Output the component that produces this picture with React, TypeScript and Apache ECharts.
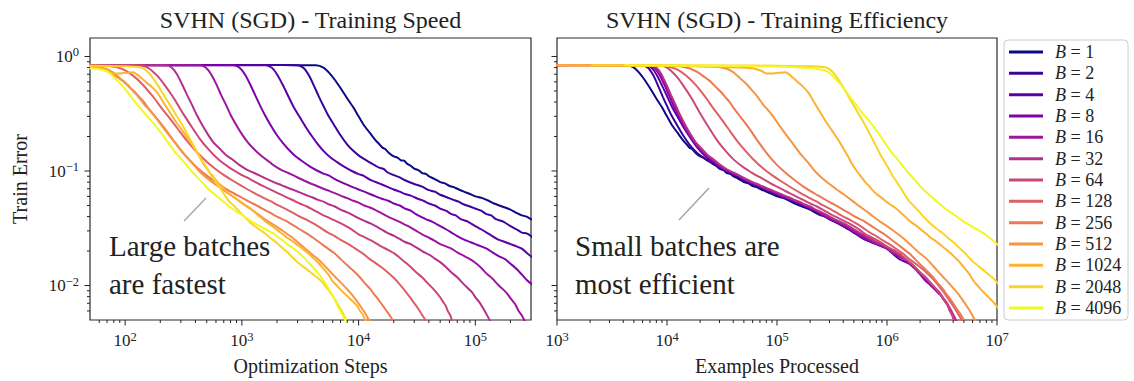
import React, { useEffect, useRef } from 'react';
import * as echarts from 'echarts';

const SERIF = 'Liberation Serif';
const INK = '#222222';

const BATCH_SIZES = [1, 2, 4, 8, 16, 32, 64, 128, 256, 512, 1024, 2048, 4096];
const COLORS = ['#0d0887', '#3a049a', '#5c01a6', '#7e03a8', '#9c179e', '#b52f8c', '#cc4778', '#de5f65', '#ed7953', '#f89540', '#fdb32f', '#fbd524', '#f0f921'];

const STEPS_RANGE = [50, 3e5];
const EXAMPLES_RANGE = [1e3, 1e7];
const ERROR_RANGE = [0.005, 1.45];

const STEPS_MAJOR = [1e2, 1e3, 1e4, 1e5];
const EXAMPLES_MAJOR = [1e3, 1e4, 1e5, 1e6, 1e7];
const ERROR_MAJOR = [0.01, 0.1, 1];
const MINOR_MULTIPLIERS = [2, 3, 4, 5, 6, 7, 8, 9];
const DECADES = [0.001, 0.01, 0.1, 1, 10, 100, 1000, 10000, 100000, 1000000];

// [optimization steps, train error]
const B1 = [[1,0.84],[20,0.845],[200,0.84],[1500,0.842],[3000,0.84],[4300,0.838],[5000,0.8],[5600,0.72],[6300,0.62],[7000,0.53],[8000,0.43],[9000,0.36],[10000,0.3],[11000,0.255],[12500,0.215],[14000,0.185],[15000,0.172],[16000,0.16],[17000,0.155],[18000,0.145],[20000,0.134],[21500,0.131],[23000,0.124],[24500,0.123],[26000,0.116],[28000,0.111],[30000,0.105],[33000,0.101],[35000,0.096],[38000,0.094],[40000,0.09],[45000,0.085],[50000,0.08],[55000,0.078],[60000,0.074],[66000,0.072],[70000,0.07],[80000,0.066],[90000,0.063],[100000,0.06],[115000,0.058],[130000,0.055],[145000,0.052],[160000,0.05],[180000,0.048],[200000,0.046],[225000,0.043],[250000,0.041],[275000,0.04],[300000,0.038],[400000,0.033],[550000,0.028]];
const B2 = [[1,0.84],[30,0.842],[300,0.84],[2000,0.841],[3000,0.84],[3400,0.79],[3800,0.67],[4200,0.54],[4600,0.44],[5000,0.37],[5500,0.305],[6200,0.25],[7000,0.205],[8000,0.17],[9000,0.15],[10000,0.137],[11500,0.125],[13000,0.116],[15000,0.107],[16500,0.104],[17500,0.098],[20000,0.092],[22500,0.088],[25000,0.083],[30000,0.077],[35000,0.073],[40000,0.068],[45000,0.066],[50000,0.062],[57000,0.059],[65000,0.056],[72000,0.054],[80000,0.051],[90000,0.049],[100000,0.047],[112000,0.045],[125000,0.042],[137000,0.041],[150000,0.038],[175000,0.036],[200000,0.033],[225000,0.031],[250000,0.029],[275000,0.0285],[300000,0.027],[325000,0.025],[400000,0.023]];
const B4 = [[1,0.84],[30,0.84],[300,0.842],[1000,0.84],[1600,0.84],[1800,0.8],[2000,0.7],[2250,0.56],[2500,0.45],[2750,0.37],[3100,0.3],[3500,0.245],[4000,0.2],[4500,0.17],[5000,0.15],[5750,0.131],[6500,0.12],[7500,0.109],[8750,0.1],[10000,0.094],[11000,0.091],[12500,0.084],[15000,0.078],[17500,0.073],[20000,0.069],[22500,0.066],[25000,0.063],[28000,0.061],[32500,0.057],[36000,0.055],[40000,0.052],[45000,0.05],[50000,0.047],[56000,0.045],[62500,0.042],[68000,0.041],[75000,0.038],[87000,0.036],[100000,0.033],[112000,0.031],[125000,0.029],[140000,0.027],[160000,0.025],[180000,0.024],[200000,0.023],[225000,0.022],[250000,0.021],[290000,0.0185],[325000,0.017],[400000,0.0155]];
const B8 = [[1,0.84],[40,0.842],[400,0.84],[850,0.84],[950,0.8],[1060,0.7],[1180,0.57],[1300,0.46],[1420,0.38],[1570,0.31],[1750,0.255],[2000,0.205],[2250,0.175],[2500,0.155],[2850,0.136],[3250,0.123],[3750,0.111],[4400,0.101],[5000,0.095],[5600,0.091],[6250,0.085],[7500,0.078],[8700,0.073],[10000,0.069],[11200,0.066],[12500,0.063],[14000,0.06],[16000,0.057],[18000,0.055],[20000,0.052],[22500,0.05],[25000,0.047],[28000,0.045],[31000,0.042],[34000,0.04],[37500,0.038],[43000,0.036],[50000,0.033],[56000,0.031],[62500,0.029],[70000,0.027],[81000,0.025],[90000,0.024],[100000,0.023],[112000,0.022],[125000,0.021],[140000,0.0195],[160000,0.018],[180000,0.017],[200000,0.0155],[225000,0.014],[250000,0.0125],[280000,0.011],[300000,0.0104],[375000,0.0084]];
const B16 = [[1,0.84],[40,0.84],[300,0.842],[440,0.84],[490,0.8],[545,0.7],[605,0.57],[665,0.46],[730,0.38],[800,0.31],[890,0.255],[1000,0.21],[1125,0.178],[1250,0.158],[1440,0.138],[1630,0.125],[1875,0.112],[2190,0.102],[2500,0.096],[2800,0.091],[3125,0.086],[3750,0.079],[4400,0.074],[5000,0.07],[5600,0.067],[6250,0.064],[7000,0.061],[8000,0.058],[9000,0.055],[10000,0.053],[11200,0.05],[12500,0.048],[14000,0.0455],[15600,0.043],[17000,0.041],[18750,0.039],[21800,0.0365],[25000,0.034],[28000,0.032],[31250,0.03],[35000,0.028],[40600,0.026],[45000,0.0245],[50000,0.023],[56000,0.022],[62500,0.021],[70000,0.0195],[81000,0.018],[90000,0.017],[100000,0.0158],[112000,0.0143],[125000,0.0127],[140000,0.0115],[156000,0.0102],[172000,0.0093],[187500,0.0085],[203000,0.0076],[219000,0.0069],[235000,0.006],[250000,0.0055],[270000,0.0047]];
const B32 = [[1,0.84],[40,0.842],[150,0.84],[225,0.84],[250,0.8],[278,0.7],[308,0.57],[340,0.46],[373,0.38],[410,0.31],[455,0.255],[510,0.21],[570,0.178],[640,0.158],[730,0.138],[830,0.126],[950,0.113],[1100,0.103],[1250,0.097],[1400,0.092],[1560,0.087],[1875,0.08],[2200,0.075],[2500,0.071],[2800,0.068],[3125,0.065],[3500,0.062],[4000,0.059],[4500,0.056],[5000,0.054],[5600,0.051],[6250,0.049],[7000,0.046],[7800,0.044],[8600,0.042],[9400,0.04],[11000,0.037],[12500,0.035],[14000,0.033],[15600,0.031],[17500,0.029],[20300,0.027],[22500,0.0255],[25000,0.024],[28000,0.023],[31250,0.0215],[35000,0.02],[40600,0.0185],[45000,0.0172],[50000,0.016],[56000,0.0145],[62500,0.013],[70000,0.0118],[78000,0.0105],[86000,0.0095],[94000,0.0087],[101000,0.0078],[109000,0.0071],[117000,0.0063],[125000,0.0056],[131000,0.0051],[137000,0.0047]];
const B64 = [[1,0.84],[30,0.842],[100,0.84],[133,0.84],[156,0.8],[188,0.68],[219,0.56],[258,0.44],[312,0.32],[375,0.24],[438,0.19],[516,0.155],[625,0.127],[781,0.107],[900,0.098],[1000,0.092],[1125,0.087],[1250,0.082],[1400,0.077],[1560,0.073],[1800,0.068],[2030,0.064],[2250,0.061],[2500,0.058],[2800,0.055],[3125,0.052],[3600,0.049],[4060,0.046],[4500,0.0435],[5000,0.041],[5600,0.039],[6250,0.037],[7000,0.035],[7800,0.033],[8900,0.0305],[10000,0.028],[11200,0.0265],[12500,0.025],[14000,0.0235],[15600,0.022],[17800,0.0205],[20300,0.019],[22500,0.0175],[25000,0.016],[28000,0.0145],[31250,0.013],[35000,0.0118],[39000,0.0105],[43000,0.0095],[46900,0.0086],[50000,0.0079],[53000,0.0072],[56000,0.0066],[58000,0.006],[61000,0.0055],[63000,0.005],[67000,0.0045]];
const B128 = [[1,0.84],[30,0.84],[55,0.84],[70,0.835],[94,0.78],[117,0.68],[141,0.57],[172,0.45],[203,0.36],[234,0.3],[281,0.235],[336,0.185],[391,0.155],[469,0.128],[586,0.105],[703,0.092],[860,0.081],[1094,0.07],[1250,0.065],[1406,0.061],[1600,0.057],[1800,0.054],[2050,0.05],[2344,0.047],[2700,0.0435],[3125,0.04],[3600,0.0375],[4060,0.035],[4700,0.032],[5470,0.029],[6250,0.027],[7030,0.025],[8200,0.023],[9375,0.021],[10900,0.019],[12500,0.017],[14000,0.0157],[15600,0.0145],[17800,0.013],[20300,0.0115],[22600,0.0102],[25000,0.009],[27300,0.008],[29700,0.0071],[32000,0.0064],[34400,0.0057],[36500,0.0052],[38300,0.0048],[40000,0.0045]];
const B256 = [[1,0.84],[20,0.835],[47,0.83],[62,0.79],[74,0.73],[86,0.66],[98,0.6],[109,0.54],[121,0.49],[133,0.44],[145,0.4],[156,0.36],[180,0.3],[215,0.24],[254,0.19],[312,0.145],[390,0.113],[488,0.093],[586,0.081],[680,0.073],[781,0.067],[900,0.062],[1016,0.058],[1150,0.054],[1290,0.051],[1500,0.047],[1760,0.043],[2000,0.04],[2344,0.037],[2700,0.034],[3125,0.031],[3600,0.0285],[4100,0.026],[4700,0.0235],[5470,0.021],[6250,0.019],[7030,0.017],[8000,0.015],[8980,0.0135],[10100,0.012],[11300,0.0105],[12500,0.0094],[13700,0.0083],[15000,0.0074],[16400,0.0065],[17800,0.0058],[19100,0.0052],[20700,0.0046]];
const B512 = [[1,0.84],[20,0.83],[50,0.82],[68,0.78],[78,0.73],[88,0.66],[102,0.58],[117,0.5],[131,0.44],[146,0.38],[162,0.34],[180,0.3],[205,0.25],[234,0.21],[270,0.175],[312,0.145],[370,0.12],[430,0.1],[500,0.087],[586,0.077],[680,0.069],[781,0.063],[920,0.056],[1074,0.05],[1250,0.045],[1465,0.04],[1700,0.036],[1953,0.033],[2300,0.0295],[2734,0.026],[3300,0.022],[3906,0.019],[4500,0.017],[5078,0.015],[5600,0.0135],[6250,0.012],[7000,0.0107],[7810,0.0095],[8800,0.0083],[9770,0.0072],[10500,0.0065],[11300,0.0058],[12000,0.0052],[12500,0.0049],[13000,0.0046]];
const B1024 = [[1,0.84],[10,0.83],[30,0.81],[59,0.79],[70,0.75],[79,0.71],[88,0.71],[95,0.715],[117,0.73],[130,0.68],[150,0.6],[170,0.54],[186,0.49],[200,0.44],[215,0.39],[235,0.34],[254,0.3],[275,0.265],[300,0.235],[330,0.205],[361,0.18],[395,0.155],[430,0.135],[470,0.115],[518,0.1],[570,0.089],[620,0.08],[680,0.073],[732,0.067],[800,0.062],[880,0.058],[960,0.054],[1045,0.051],[1150,0.048],[1250,0.045],[1350,0.042],[1465,0.039],[1600,0.036],[1750,0.034],[1900,0.032],[2050,0.03],[2250,0.028],[2450,0.026],[2700,0.0245],[2930,0.023],[3200,0.0215],[3500,0.02],[3850,0.0185],[4200,0.017],[4600,0.0155],[5000,0.014],[5500,0.0125],[5960,0.011],[6500,0.01],[7000,0.0092],[7600,0.0085],[8300,0.0078],[9000,0.0072],[9770,0.0066],[10300,0.006],[10800,0.0056],[11300,0.0051],[11700,0.0048]];
const B2048 = [[1,0.84],[20,0.835],[50,0.83],[100,0.82],[137,0.8],[150,0.76],[165,0.69],[180,0.61],[195,0.54],[220,0.44],[245,0.37],[269,0.316],[310,0.25],[350,0.2],[390,0.164],[420,0.142],[460,0.122],[505,0.105],[552,0.09],[600,0.08],[650,0.071],[710,0.062],[781,0.054],[850,0.05],[920,0.046],[1000,0.042],[1074,0.039],[1200,0.035],[1400,0.031],[1580,0.0285],[1760,0.026],[1980,0.0237],[2200,0.0215],[2450,0.0195],[2730,0.0175],[3000,0.016],[3300,0.0148],[3650,0.0137],[4000,0.0127],[4400,0.0118],[4880,0.0107],[5300,0.0096],[5700,0.0087],[6100,0.0079],[6500,0.0071],[6900,0.0064],[7300,0.0058],[7700,0.0052],[8000,0.0048]];
const B4096 = [[1,0.84],[20,0.82],[40,0.8],[55,0.78],[68,0.75],[78,0.68],[88,0.6],[100,0.52],[115,0.43],[130,0.37],[146,0.32],[165,0.28],[190,0.235],[222,0.19],[245,0.165],[270,0.145],[305,0.126],[342,0.11],[380,0.097],[420,0.087],[465,0.078],[513,0.07],[570,0.064],[640,0.058],[710,0.053],[781,0.049],[880,0.045],[980,0.042],[1090,0.039],[1200,0.0365],[1350,0.034],[1500,0.032],[1650,0.0305],[1800,0.029],[1950,0.0275],[2100,0.026],[2270,0.0245],[2440,0.023],[2700,0.0215],[3000,0.0197],[3350,0.0178],[3700,0.016],[4100,0.0143],[4500,0.0128],[4900,0.0114],[5300,0.0101],[5700,0.0089],[6100,0.0079],[6450,0.007],[6800,0.0063],[7100,0.0058],[7400,0.0054],[7650,0.005],[7900,0.0047]];

const RUNS = [B1, B2, B4, B8, B16, B32, B64, B128, B256, B512, B1024, B2048, B4096];

const minorTicks = (lo: number, hi: number) => {
  const out: number[] = [];
  DECADES.forEach((d) => MINOR_MULTIPLIERS.forEach((m) => {
    const v = m * d;
    if (v > lo * 1.0001 && v < hi * 0.9999) out.push(v);
  }));
  return out;
};

const supLabel = (v: number) => {
  const l = Math.log10(v);
  const e = Math.round(l);
  if (Math.abs(l - e) > 1e-4) return '';
  return `{b|10}{s|${e < 0 ? '\u2212' + -e : e}}`;
};

const TICK_RICH = {
  b: { fontFamily: SERIF, fontSize: 17, lineHeight: 21, color: INK },
  s: { fontFamily: SERIF, fontSize: 12.5, lineHeight: 12, verticalAlign: 'top', color: INK },
};

const tickSeries = (values: number[], axis: 'x' | 'y', gridIdx: number, len: number, fixed: number) => ({
  type: 'custom',
  xAxisIndex: gridIdx,
  yAxisIndex: gridIdx,
  silent: true,
  clip: false,
  z: 5,
  data: values.map((v) => (axis === 'x' ? [v, fixed] : [fixed, v])),
  encode: { x: 0, y: 1 },
  renderItem: (_params: any, api: any) => {
    const p = api.coord([api.value(0), api.value(1)]);
    const shape = axis === 'x'
      ? { x1: p[0], y1: p[1], x2: p[0], y2: p[1] + len }
      : { x1: p[0] - len, y1: p[1], x2: p[0], y2: p[1] };
    return { type: 'line', shape, style: { stroke: INK, lineWidth: 1 } };
  },
});

const GRIDS = [
  { left: 90, top: 38, width: 441, height: 285 },
  { left: 557, top: 38, width: 440, height: 285 },
];

const textEl = (text: string, x: number, y: number, size: number, align: string) => ({
  type: 'text',
  z: 10,
  x,
  y,
  style: {
    text,
    fontFamily: SERIF,
    fontSize: size,
    fill: INK,
    align,
    verticalAlign: 'middle',
    textAlign: align,
    textVerticalAlign: 'middle',
  },
});

function buildOption() {
  const names = BATCH_SIZES.map((b) => `B = ${b}`);
  const lines: any[] = [];
  [0, 1].forEach((g) => {
    RUNS.forEach((run, i) => {
      lines.push({
        type: 'line',
        name: names[i],
        xAxisIndex: g,
        yAxisIndex: g,
        data: g === 0 ? run : run.map(([s, e]) => [s * BATCH_SIZES[i], e]),
        showSymbol: false,
        symbol: 'none',
        smooth: 0.2,
        color: COLORS[i],
        lineStyle: { width: 2, color: COLORS[i] },
        emphasis: { disabled: true },
        z: 2,
      });
    });
  });

  const ticks = [
    tickSeries(STEPS_MAJOR, 'x', 0, 5.5, ERROR_RANGE[0]),
    tickSeries(minorTicks(STEPS_RANGE[0], STEPS_RANGE[1]), 'x', 0, 3, ERROR_RANGE[0]),
    tickSeries(ERROR_MAJOR, 'y', 0, 5.5, STEPS_RANGE[0]),
    tickSeries(minorTicks(ERROR_RANGE[0], ERROR_RANGE[1]), 'y', 0, 3, STEPS_RANGE[0]),
    tickSeries(EXAMPLES_MAJOR, 'x', 1, 5.5, ERROR_RANGE[0]),
    tickSeries(minorTicks(EXAMPLES_RANGE[0], EXAMPLES_RANGE[1]), 'x', 1, 3, ERROR_RANGE[0]),
    tickSeries(ERROR_MAJOR, 'y', 1, 5.5, EXAMPLES_RANGE[0]),
    tickSeries(minorTicks(ERROR_RANGE[0], ERROR_RANGE[1]), 'y', 1, 3, EXAMPLES_RANGE[0]),
  ];

  const axisCommon = {
    type: 'log',
    logBase: 10,
    axisLine: { show: false },
    axisTick: { show: false },
    minorTick: { show: false },
    splitLine: { show: false },
    minorSplitLine: { show: false },
  };
  const nameStyle = { fontFamily: SERIF, fontSize: 20, color: INK };

  return {
    animation: false,
    backgroundColor: '#ffffff',
    textStyle: { fontFamily: SERIF },
    grid: GRIDS.map((g) => ({ ...g, show: true, borderColor: '#2b2b2b', borderWidth: 1.2, backgroundColor: 'transparent', containLabel: false })),
    xAxis: [
      { ...axisCommon, gridIndex: 0, min: STEPS_RANGE[0], max: STEPS_RANGE[1], axisLabel: { formatter: supLabel, margin: 10, rich: TICK_RICH }, name: 'Optimization Steps', nameLocation: 'middle', nameGap: 36, nameTextStyle: nameStyle },
      { ...axisCommon, gridIndex: 1, min: EXAMPLES_RANGE[0], max: EXAMPLES_RANGE[1], axisLabel: { formatter: supLabel, margin: 10, rich: TICK_RICH }, name: 'Examples Processed', nameLocation: 'middle', nameGap: 36, nameTextStyle: nameStyle },
    ],
    yAxis: [
      { ...axisCommon, gridIndex: 0, min: ERROR_RANGE[0], max: ERROR_RANGE[1], axisLabel: { formatter: supLabel, margin: 11, rich: TICK_RICH }, name: 'Train Error', nameLocation: 'middle', nameGap: 60, nameTextStyle: nameStyle },
      { ...axisCommon, gridIndex: 1, min: ERROR_RANGE[0], max: ERROR_RANGE[1], axisLabel: { show: false } },
    ],
    legend: {
      data: names,
      orient: 'vertical',
      left: 1009,
      top: 43,
      itemWidth: 34,
      itemHeight: 3,
      itemGap: 3.33,
      icon: 'rect',
      selectedMode: false,
      padding: 0,
      formatter: (name: string) => `{i|B}{n|\u00a0=\u00a0${name.split('= ')[1]}}`,
      textStyle: {
        fontFamily: SERIF, fontSize: 18, color: INK, lineHeight: 18,
        rich: {
          i: { fontFamily: SERIF, fontStyle: 'italic', fontSize: 18, lineHeight: 18, color: INK, padding: [0, 0, 0, 7] },
          n: { fontFamily: SERIF, fontSize: 18, lineHeight: 18, color: INK },
        },
      },
    },
    graphic: [
      { type: 'rect', z: 0, shape: { x: 1004, y: 40, width: 124, height: 280, r: 4 }, style: { fill: '#ffffff', stroke: '#cccccc', lineWidth: 1 } },
      textEl('SVHN (SGD) - Training Speed', 310.5, 20, 24, 'center'),
      textEl('SVHN (SGD) - Training Efficiency', 777, 20, 24, 'center'),
      { type: 'line', z: 10, shape: { x1: 184, y1: 221, x2: 206, y2: 198 }, style: { stroke: '#a0a0a0', lineWidth: 1.2 } },
      { type: 'line', z: 10, shape: { x1: 679, y1: 220, x2: 709, y2: 188 }, style: { stroke: '#a0a0a0', lineWidth: 1.2 } },
      textEl('Large batches', 109, 246, 29, 'left'),
      textEl('are fastest', 109, 284, 29, 'left'),
      textEl('Small batches are', 575, 246, 29, 'left'),
      textEl('most efficient', 575, 284, 29, 'left'),
    ],
    series: [...lines, ...ticks],
  };
}

export default function App() {
  const ref = useRef<HTMLDivElement>(null);
  useEffect(() => {
    if (!ref.current) return;
    const chart = echarts.init(ref.current, undefined, { renderer: 'svg' });
    chart.setOption(buildOption() as any);
    return () => chart.dispose();
  }, []);
  return <div ref={ref} style={{ position: 'fixed', left: 0, top: 0, width: 1134, height: 381, background: '#fff' }} />;
}
